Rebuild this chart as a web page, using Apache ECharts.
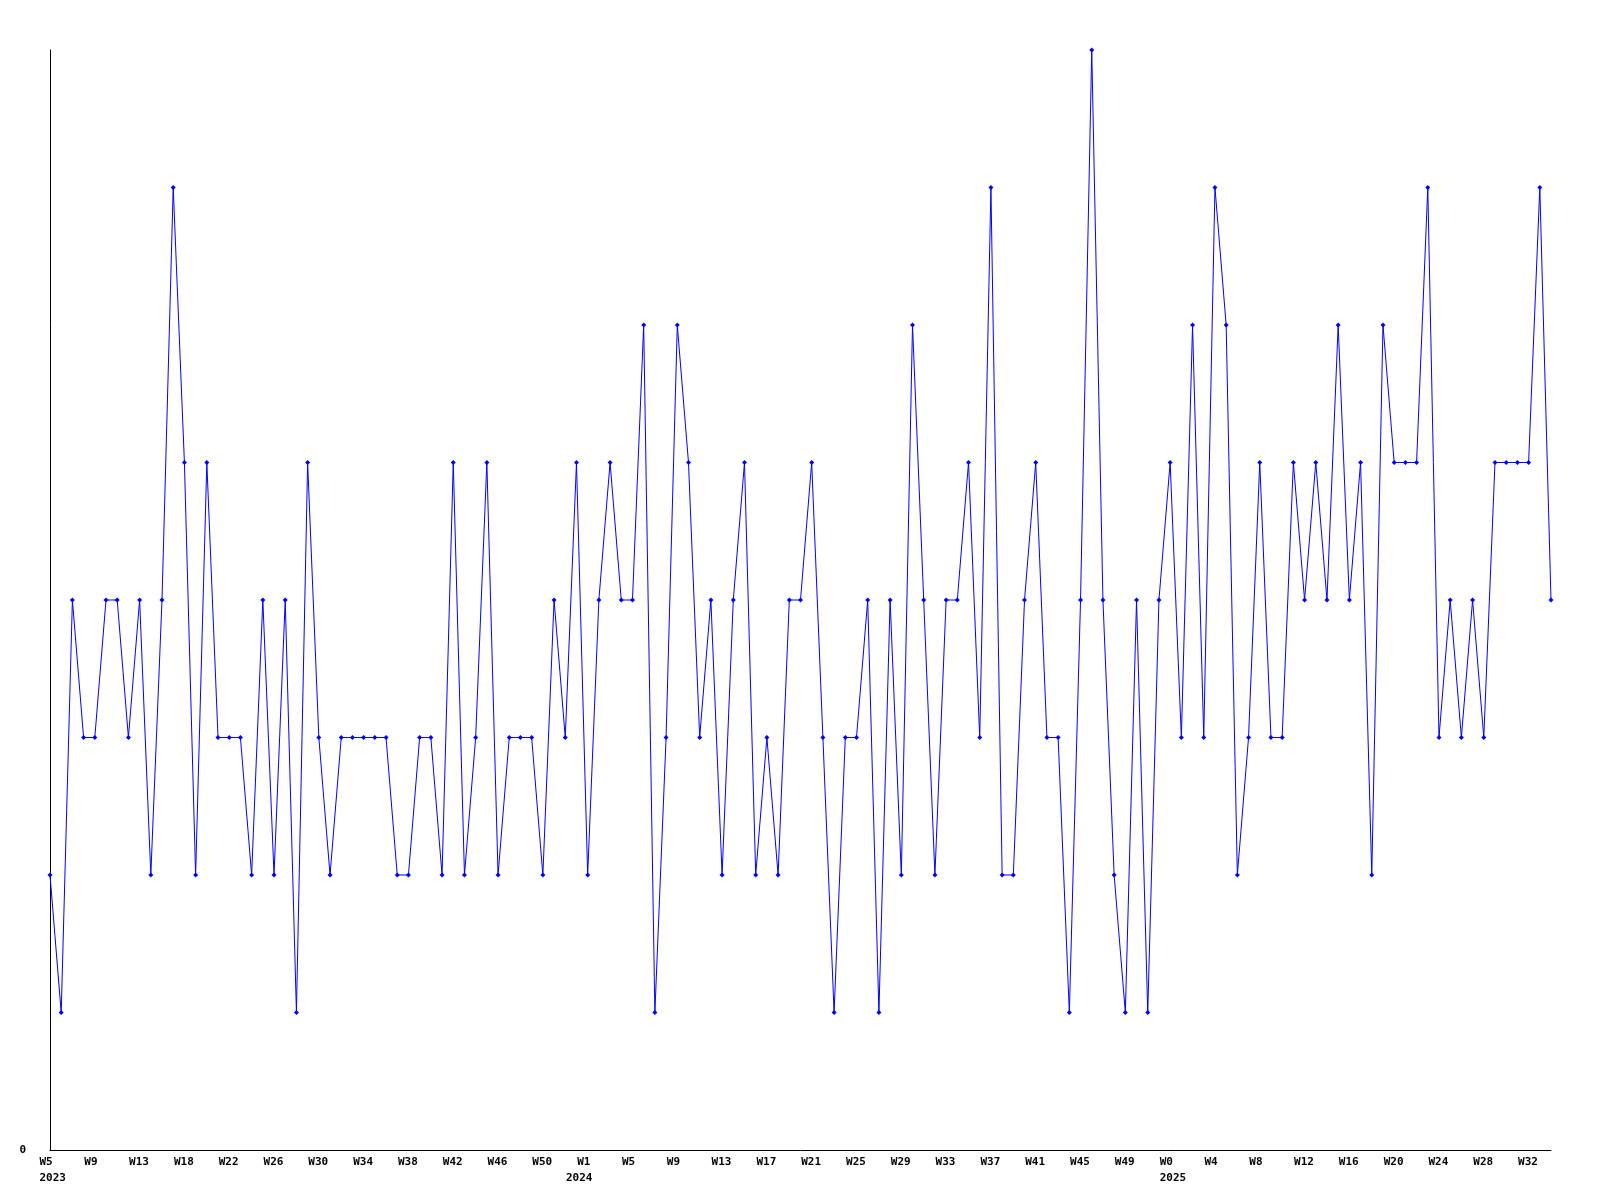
<!DOCTYPE html>
<html>
<head>
<meta charset="utf-8">
<script src="https://cdn.jsdelivr.net/npm/echarts@6/dist/echarts.min.js"></script>
<style>
html, body { margin: 0; padding: 0; background: #ffffff; }
#chart { width: 1600px; height: 1200px; }
</style>
</head>
<body>
<div id="chart"></div>
<script>
// Week numbers per year (x categories)
const weeks2023 = [5,6,7,8,9,10,11,12,13,14,15,16,18,19,20,21,22,23,24,25,26,27,28,29,30,31,32,33,34,35,36,37,38,39,40,41,42,43,44,45,46,47,48,49,50,51,52];
const weeks2024 = [0,1,2,3,4,5,6,7,8,9,10,11,12,13,14,15,16,17,18,19,20,21,22,23,24,25,26,27,28,29,30,31,32,33,34,35,36,37,38,39,40,41,42,43,44,45,46,47,48,49,50,51,52];
const weeks2025 = [0,1,2,3,4,5,6,7,8,9,10,11,12,13,14,15,16,17,18,19,20,21,22,23,24,25,26,27,28,29,30,31,32,33,34];

// Series values
const values = [
  2,1,4,3,3,4,4,3,4,2,4,7,5,2,5,3,3,3,2,4,2,4,1,
  5,3,2,3,3,3,3,3,2,2,3,3,2,5,2,3,5,2,3,3,3,2,
  4,3,5,2,4,5,4,4,6,1,3,6,5,3,4,2,4,5,2,3,2,4,
  4,5,3,1,3,3,4,1,4,2,6,4,2,4,4,5,3,7,2,2,4,5,3,
  3,1,4,8,4,2,1,4,1,4,5,3,6,3,7,6,2,3,5,3,3,5,
  4,5,4,6,4,5,2,6,5,5,5,7,3,4,3,4,3,5,5,5,5,7,4
];

// Y tick labels
const yTicks = [0];

const categories = [];
const firstOfYear = {};
[[2023, weeks2023], [2024, weeks2024], [2025, weeks2025]].forEach(function (pair) {
  pair[1].forEach(function (w, i) {
    const c = pair[0] + '-W' + w;
    if (i === 0) firstOfYear[c] = pair[0];
    categories.push(c);
  });
});

const FONT = "'DejaVu Sans Mono', 'Liberation Mono', monospace";

const chart = echarts.init(document.getElementById('chart'), null, { renderer: 'canvas' });
chart.setOption({
  animation: false,
  backgroundColor: '#ffffff',
  grid: { left: 50, right: 49, top: 50, bottom: 50, containLabel: false },
  xAxis: {
    type: 'category',
    data: categories,
    boundaryGap: false,
    axisLine: { show: true, lineStyle: { color: '#000000', width: 1 } },
    axisTick: { show: false },
    splitLine: { show: false },
    axisLabel: {
      interval: function (index, val) {
        return index % 4 === 0 || firstOfYear[val] !== undefined;
      },
      margin: 4,
      align: 'center',
      formatter: function (val, index) {
        const wk = val.split('-')[1];
        const top = (index % 4 === 0) ? '{w|' + wk + '}' : '{w| }';
        if (firstOfYear[val] !== undefined) {
          return top + '\n{w|' + firstOfYear[val] + '}';
        }
        return top;
      },
      rich: {
        w: {
          width: 21,
          align: 'left',
          fontFamily: FONT,
          fontSize: 11,
          fontWeight: 'bold',
          lineHeight: 16,
          color: '#000000'
        }
      }
    }
  },
  yAxis: {
    type: 'value',
    min: 0,
    max: 8,
    interval: 8,
    axisLine: { show: true, lineStyle: { color: '#000000', width: 1 } },
    axisTick: { show: false },
    splitLine: { show: false },
    axisLabel: {
      margin: 24,
      fontFamily: FONT,
      fontSize: 11,
      fontWeight: 'bold',
      color: '#000000',
      formatter: function (v) { return yTicks.indexOf(v) >= 0 ? String(v) : ''; }
    }
  },
  series: [{
    type: 'line',
    data: values,
    symbol: 'diamond',
    symbolSize: 5,
    showAllSymbol: true,
    lineStyle: { color: '#0000ff', width: 1 },
    itemStyle: { color: '#0000ff' },
    emphasis: { disabled: true }
  }]
});
</script>
</body>
</html>
